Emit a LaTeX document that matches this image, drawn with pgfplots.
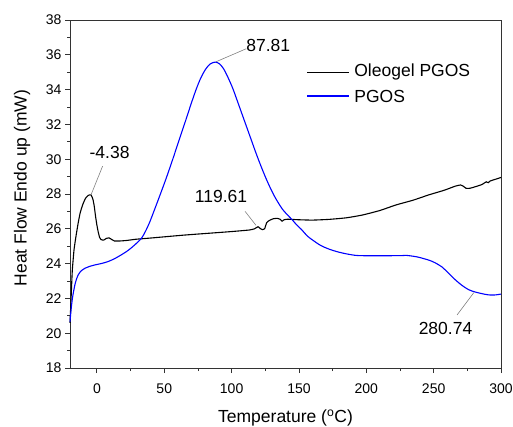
\documentclass[border=0pt]{standalone}
\usepackage{pgfplots}
\pgfplotsset{compat=1.18}
\usepackage{fontspec}
\setmainfont{Liberation Sans}

\begin{document}
\begin{tikzpicture}
\path[use as bounding box] (0,0) rectangle (513pt,426pt);
\begin{axis}[
  at={(70pt,58pt)}, anchor=south west,
  width=431pt, height=348pt, scale only axis,
  xmin=-20, xmax=300, ymin=18, ymax=38,
  xtick={0,50,...,300}, ytick={18,20,...,38},
  minor x tick num=1, minor y tick num=1,
  tick pos=left, tick align=outside,
  major tick length=5pt, minor tick length=3pt,
  axis line style={black!80, line width=0.9pt},
  every tick/.style={black!80, line width=0.9pt},
  /pgf/number format/assume math mode=true,
  ticklabel style={font=\fontsize{14}{16}\selectfont},
  x tick label style={yshift=-7pt},
  xlabel={Temperature (\textsuperscript{o}C)},
  ylabel={Heat Flow Endo up (mW)},
  label style={font=\fontsize{17.5}{20}\selectfont},
  xlabel style={at={(axis description cs:0.5,0)}, anchor=center, yshift=-50pt},
  ylabel style={at={(axis description cs:0,0.517)}, anchor=center, yshift=48pt},
  clip=false,
]
% Oleogel PGOS
\addplot[black, line width=1.1pt, smooth, tension=0.3] coordinates {
(-20,20.6) (-19.2,22.0) (-18.3,23.6) (-17,24.8) (-15.5,25.6) (-14,26.3)
(-12.5,26.9) (-10.5,27.4) (-8.5,27.75) (-6.5,27.92) (-4.4,27.95) (-3,27.7)
(-2,27.3) (-1,26.7) (0,26.2) (1,25.8) (2,25.5) (3,25.38) (5,25.35) (7,25.45)
(9,25.48) (11,25.38) (13,25.3) (17,25.3) (22,25.33) (29,25.4) (40,25.47)
(65,25.64) (98,25.83) (113,25.93) (117,26.0) (119.6,26.12) (121.5,26.0)
(123,25.95) (124.5,26.0) (126,26.35) (128,26.48) (131,26.58) (134,26.6)
(136,26.55) (137.5,26.44) (139,26.52) (141.5,26.55) (150,26.52) (160,26.5)
(172,26.54) (185,26.63) (197,26.79) (210,27.05) (222,27.37) (235,27.65)
(246,27.94) (258,28.22) (266,28.45) (270,28.52) (272,28.45) (274,28.33)
(277,28.33) (281,28.42) (286,28.55) (289,28.7) (290.5,28.65) (292,28.75)
(296,28.85) (300,28.95)
};
% PGOS
\addplot[blue, line width=1.1pt, smooth, tension=0.5] coordinates {
(-20,20.66) (-19,21.5) (-17.8,22.2) (-16,22.9) (-14,23.34) (-11.5,23.6)
(-9,23.73) (-5,23.85) (-1.7,23.92) (3,24.0) (8,24.11) (13,24.28) (18,24.5)
(23,24.75) (28,25.07) (33,25.45) (36,25.85) (39,26.35) (42.5,27.05)
(46.4,27.85) (51.4,28.9) (56.3,30.0) (61,31.1) (66.2,32.3) (70,33.2)
(73.6,34.0) (77,34.65) (80.5,35.15) (84,35.47) (87.8,35.58) (91,35.48)
(94,35.2) (97,34.75) (100.7,34.1) (103.3,33.55) (107,32.75) (110.7,31.95)
(114.4,31.15) (118.1,30.35) (121.8,29.6) (125.5,28.9) (129.2,28.27)
(132.9,27.72) (137.8,27.12) (142.7,26.7) (145.2,26.5) (148,26.25)
(152,25.95) (156,25.6) (160,25.36) (166,25.05) (172.4,24.83) (180,24.65)
(188,24.52) (194.6,24.46) (210,24.45) (226,24.46) (230,24.47) (238,24.38)
(246.4,24.2) (251,24.05) (256.3,23.8) (261,23.45) (266.2,23.06) (271,22.75)
(276,22.5) (280.7,22.37) (286,22.27) (291,22.2) (296,22.2) (300,22.25)
};
% legend
\draw[black, line width=1.1pt] (axis cs:156,35.0) -- (axis cs:187,35.0);
\node[anchor=west, font=\fontsize{17.5}{20}\selectfont] at (axis cs:188.5,35.0) {Oleogel PGOS};
\draw[blue, line width=1.1pt] (axis cs:156,33.63) -- (axis cs:187,33.63);
\node[anchor=west, font=\fontsize{17.5}{20}\selectfont] at (axis cs:188.5,33.63) {PGOS};
% peak annotations
\draw[gray, line width=0.6pt] (axis cs:-4.4,27.95) -- (axis cs:4.2,29.6);
\node[font=\fontsize{17.5}{20}\selectfont] at (axis cs:9.4,30.36) {-4.38};
\draw[gray, line width=0.6pt] (axis cs:88.4,35.6) -- (axis cs:110.9,36.35);
\node[font=\fontsize{17.5}{20}\selectfont] at (axis cs:127.2,36.56) {87.81};
\draw[gray, line width=0.6pt] (axis cs:118.1,26.2) -- (axis cs:110,27.0);
\node[font=\fontsize{17.5}{20}\selectfont] at (axis cs:92.1,27.85) {119.61};
\draw[gray, line width=0.6pt] (axis cs:279.8,22.33) -- (axis cs:267.4,21.05);
\node[font=\fontsize{17.5}{20}\selectfont] at (axis cs:258.8,20.28) {280.74};
\end{axis}
\end{tikzpicture}
\end{document}
